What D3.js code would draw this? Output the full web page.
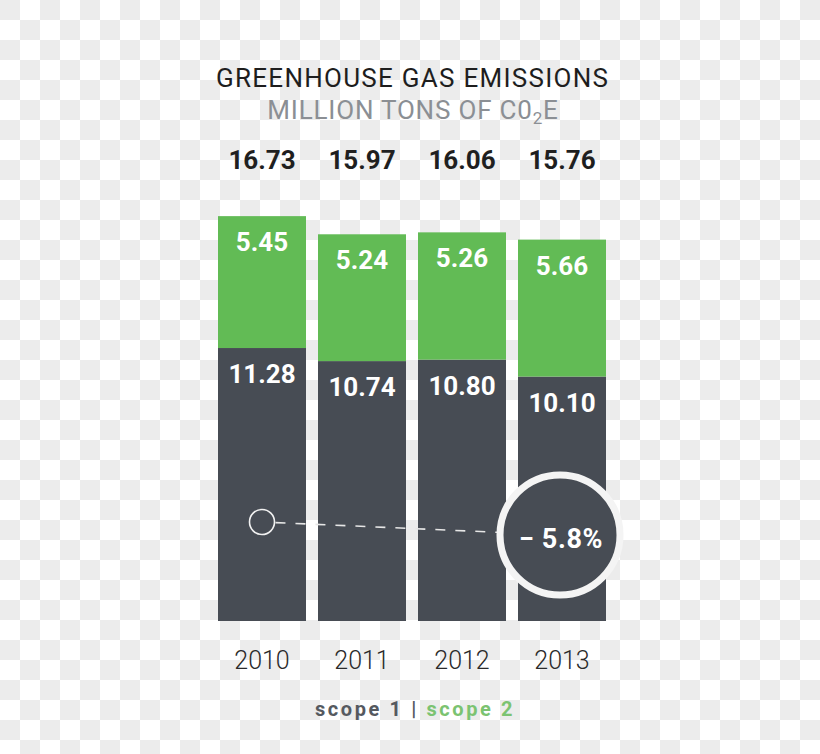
<!DOCTYPE html>
<html>
<head>
<meta charset="utf-8">
<script src="https://cdn.jsdelivr.net/npm/d3@7"></script>
<style>
html,body{margin:0;padding:0;background:#fff;}
svg{display:block;}
</style>
</head>
<body>
<svg id="chart" width="820" height="754"></svg>
<script>
// ---- data ----
const years = ["2010", "2011", "2012", "2013"];
const scope1 = [11.28, 10.74, 10.80, 10.10];
const scope2 = [5.45, 5.24, 5.26, 5.66];
const totals = [16.73, 15.97, 16.06, 15.76];
const changeLabel = "\u2212 5.8%";
const legendLabels = ["scope 1", "scope 2"];

const C_DARK = "#474c54";
const C_GREEN = "#62bb55";

const svg = d3.select("#chart");

// checkerboard background
const defs = svg.append("defs");
const pat = defs.append("pattern").attr("id", "checker")
  .attr("width", 40).attr("height", 40).attr("patternUnits", "userSpaceOnUse");
pat.append("rect").attr("width", 40).attr("height", 40).attr("fill", "#ffffff");
pat.append("rect").attr("x", 0).attr("y", 0).attr("width", 20).attr("height", 20).attr("fill", "#ececec");
pat.append("rect").attr("x", 20).attr("y", 20).attr("width", 20).attr("height", 20).attr("fill", "#ececec");
svg.append("rect").attr("width", 820).attr("height", 754).attr("fill", "url(#checker)");

// scales
const x = d3.scaleBand().domain(years).range([212, 612]).paddingInner(0.12).paddingOuter(0.06);
const y = d3.scaleLinear().domain([0, 20]).range([621, 621 - 20 * 24.2]);

const rows = years.map((yr, i) => ({ year: yr, s1: scope1[i], s2: scope2[i], total: totals[i] }));
const stack = d3.stack().keys(["s1", "s2"])(rows);
const colors = { s1: C_DARK, s2: C_GREEN };

// bars
const layers = svg.append("g").selectAll("g").data(stack).join("g")
  .attr("fill", d => colors[d.key]);
layers.selectAll("rect").data(d => d).join("rect")
  .attr("x", d => x(d.data.year))
  .attr("width", x.bandwidth())
  .attr("y", d => y(d[1]))
  .attr("height", d => y(d[0]) - y(d[1]));

// segment value labels
layers.selectAll("text").data((d) => d.map(v => ({ v, key: d.key }))).join("text")
  .attr("x", d => x(d.v.data.year) + x.bandwidth() / 2)
  .attr("y", d => y(d.v[1]) + 35)
  .attr("text-anchor", "middle")
  .attr("fill", "#ffffff")
  .attr("font-family", "Roboto, sans-serif")
  .attr("font-weight", 700)
  .attr("font-size", 26)
  .text(d => (d.key === "s1" ? d.v.data.s1 : d.v.data.s2).toFixed(2));

// totals
svg.append("g").selectAll("text").data(rows).join("text")
  .attr("x", d => x(d.year) + x.bandwidth() / 2)
  .attr("y", 169)
  .attr("text-anchor", "middle")
  .attr("fill", "#1f1f1f")
  .attr("font-family", "Roboto, sans-serif")
  .attr("font-weight", 700)
  .attr("font-size", 26)
  .text(d => d.total.toFixed(2));

// years (axis labels)
const xAxis = d3.axisBottom(x).tickSize(0).tickPadding(0);
const ax = svg.append("g").attr("transform", "translate(0,651)").call(xAxis);
ax.select(".domain").remove();
ax.selectAll("text")
  .attr("dy", 0).attr("y", 18)
  .attr("fill", "#2a2a2a")
  .attr("font-family", "Roboto, sans-serif")
  .attr("font-weight", 300)
  .attr("font-size", 25);

// title
svg.append("text")
  .attr("x", 412).attr("y", 87)
  .attr("text-anchor", "middle")
  .attr("fill", "#1e1e1e")
  .attr("font-family", "Roboto, sans-serif")
  .attr("font-size", 26)
  .attr("textLength", 392).attr("lengthAdjust", "spacing")
  .text("GREENHOUSE GAS EMISSIONS");

const sub = svg.append("text")
  .attr("x", 413).attr("y", 119)
  .attr("text-anchor", "middle")
  .attr("fill", "#8b8f94")
  .attr("font-family", "Roboto, sans-serif")
  .attr("font-size", 26)
  .attr("letter-spacing", 0.8);
sub.append("tspan").text("MILLION TONS OF C0");
sub.append("tspan").attr("font-size", 17).attr("dy", 5).text("2");
sub.append("tspan").attr("dy", -5).text("E");

// annotation: dashed line and circles
const cx0 = x("2010") + x.bandwidth() / 2, cy0 = 522;
const cx1 = x("2013") + x.bandwidth() / 2 - 2, cy1 = 535;
const r0 = 12.5, r1 = 60;
const dx = cx1 - cx0, dy = cy1 - cy0, len = Math.hypot(dx, dy);
svg.append("line")
  .attr("x1", cx0 + dx / len * (r0 + 1)).attr("y1", cy0 + dy / len * (r0 + 1))
  .attr("x2", cx1 - dx / len * (r1 + 3)).attr("y2", cy1 - dy / len * (r1 + 3))
  .attr("stroke", "#e6e6e6").attr("stroke-width", 1.6)
  .attr("stroke-dasharray", "10,10");
svg.append("circle").attr("cx", cx0).attr("cy", cy0).attr("r", r0)
  .attr("fill", "none").attr("stroke", "#f2f2f2").attr("stroke-width", 1.6);
svg.append("circle").attr("cx", cx1).attr("cy", cy1).attr("r", r1)
  .attr("fill", C_DARK).attr("stroke", "#f4f4f4").attr("stroke-width", 7);
svg.append("text")
  .attr("x", cx1 + 1).attr("y", cy1 + 13)
  .attr("text-anchor", "middle")
  .attr("fill", "#ffffff")
  .attr("font-family", "Roboto, sans-serif")
  .attr("font-weight", 700)
  .attr("font-size", 27)
  .attr("letter-spacing", 0.6)
  .text(changeLabel);

// legend
const leg = svg.append("text")
  .attr("x", 415).attr("y", 716)
  .attr("text-anchor", "middle")
  .attr("font-family", "Roboto, sans-serif")
  .attr("font-weight", 700)
  .attr("font-size", 20)
  .attr("letter-spacing", 2.6);
leg.append("tspan").attr("fill", "#55595f").text(legendLabels[0] + " ");
leg.append("tspan").attr("fill", "#55595f").text("| ");
leg.append("tspan").attr("fill", "#7bc371").text(legendLabels[1]);
</script>
</body>
</html>
